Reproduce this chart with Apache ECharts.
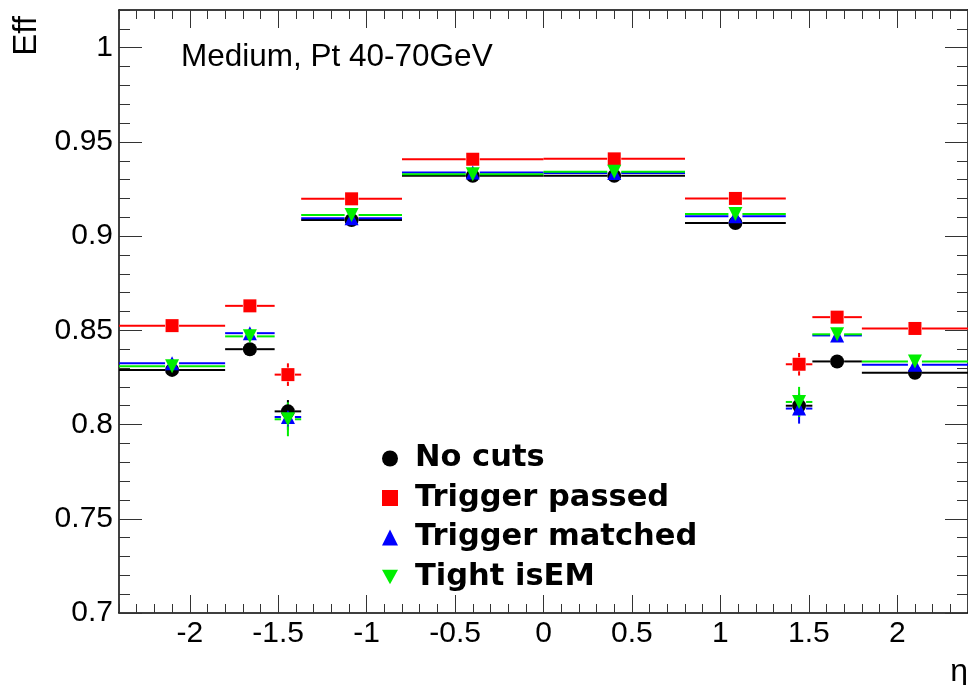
<!DOCTYPE html>
<html>
<head>
<meta charset="utf-8">
<script src="https://cdn.jsdelivr.net/npm/echarts@6/dist/echarts.min.js"></script>
<style>
  html, body { margin: 0; padding: 0; background: #fff; }
  #main { width: 968px; height: 685px; }
</style>
</head>
<body>
<div id="main"></div>
<script>
// bins in eta
const binEdges = [-2.4, -1.8, -1.52, -1.37, -0.8, 0, 0.8, 1.37, 1.52, 1.8, 2.4];

// efficiencies per bin
const effNoCuts   = [0.829, 0.840, 0.807, 0.9085, 0.932, 0.932, 0.907, 0.810, 0.8335, 0.8275];
const effPassed   = [0.8525, 0.863, 0.8265, 0.9198, 0.9408, 0.941, 0.920, 0.832, 0.857, 0.851];
const effMatched  = [0.8325, 0.8485, 0.804, 0.9095, 0.9337, 0.9335, 0.9105, 0.8085, 0.8473, 0.8318];
const effTight    = [0.831, 0.8468, 0.8028, 0.9112, 0.9328, 0.9342, 0.9117, 0.812, 0.8479, 0.8335];

// statistical errors
const errNoCuts   = [0.001, 0.003, 0.006, 0.001, 0.001, 0.001, 0.001, 0.006, 0.003, 0.001];
const errPassed   = [0.001, 0.003, 0.006, 0.001, 0.001, 0.001, 0.001, 0.006, 0.003, 0.001];
const errMatched  = [0.001, 0.003, 0.007, 0.001, 0.001, 0.001, 0.001, 0.008, 0.003, 0.001];
const errTight    = [0.001, 0.003, 0.009, 0.001, 0.001, 0.001, 0.001, 0.008, 0.003, 0.001];

const xTickLabels = [-2, -1.5, -1, -0.5, 0, 0.5, 1, 1.5, 2];
const yTickLabels = [0.7, 0.75, 0.8, 0.85, 0.9, 0.95, 1];

let xMinor = [];
for (let i = -24; i <= 24; i++) xMinor.push(i / 10);
let yMinor = [];
for (let i = 70; i <= 102; i++) yMinor.push(i / 100);

const fontAxis = 'Liberation Sans';
const invTriangle = 'path://M0,0L10,0L5,9Z';

const chart = echarts.init(document.getElementById('main'));

function binData(eff, err) {
  return eff.map((v, i) => [binEdges[i], binEdges[i + 1], v, err[i]]);
}
function centerData(eff) {
  return eff.map((v, i) => [(binEdges[i] + binEdges[i + 1]) / 2, v]);
}

// horizontal bin line + vertical error bar, with a gap around the marker (ROOT style)
function binRender(color) {
  return function (params, api) {
    const y = api.value(2);
    const lo = api.coord([api.value(0), y]);
    const hi = api.coord([api.value(1), y]);
    const c = api.coord([(api.value(0) + api.value(1)) / 2, y]);
    const top = api.coord([0, y + api.value(3)])[1];
    const bot = api.coord([0, y - api.value(3)])[1];
    const gap = 7;
    const style = { stroke: color, lineWidth: 2 };
    let children = [];
    children.push({ type: 'line', shape: { x1: lo[0], y1: c[1], x2: c[0] - gap, y2: c[1] }, style: style });
    children.push({ type: 'line', shape: { x1: c[0] + gap, y1: c[1], x2: hi[0], y2: c[1] }, style: style });
    if (c[1] - gap > top) {
      children.push({ type: 'line', shape: { x1: c[0], y1: c[1] - gap, x2: c[0], y2: top }, style: style });
    }
    if (bot > c[1] + gap) {
      children.push({ type: 'line', shape: { x1: c[0], y1: c[1] + gap, x2: c[0], y2: bot }, style: style });
    }
    return { type: 'group', children: children };
  };
}

function lineSeries(eff, err, color) {
  return {
    type: 'custom',
    renderItem: binRender(color),
    dimensions: ['lo', 'hi', 'eff', 'err'],
    encode: { x: [0, 1], y: 2 },
    data: binData(eff, err),
    clip: false,
    silent: true
  };
}
function markerSeries(name, eff, color, symbol, size) {
  return {
    name: name,
    type: 'scatter',
    symbol: symbol,
    symbolSize: size,
    itemStyle: { color: color, opacity: 1 },
    data: centerData(eff),
    silent: true
  };
}

function xAxisOf(position, ticks, len, withLine, withLabel) {
  return {
    type: 'value', min: -2.4, max: 2.4, position: position,
    axisLine: { show: withLine, onZero: false, lineStyle: { color: '#000', width: 1.5 } },
    axisTick: { show: true, inside: true, length: len, customValues: ticks, lineStyle: { color: '#333', width: 1 } },
    axisLabel: withLabel
      ? { show: true, customValues: ticks, fontFamily: fontAxis, fontSize: 30, color: '#000', margin: 6 }
      : { show: false },
    splitLine: { show: false }
  };
}
function yAxisOf(position, ticks, len, withLine, withLabel) {
  return {
    type: 'value', min: 0.7, max: 1.02, position: position,
    axisLine: { show: withLine, onZero: false, lineStyle: { color: '#000', width: 1.5 } },
    axisTick: { show: true, inside: true, length: len, customValues: ticks, lineStyle: { color: '#333', width: 1 } },
    axisLabel: withLabel
      ? { show: true, customValues: ticks, fontFamily: fontAxis, fontSize: 30, color: '#000', margin: 6 }
      : { show: false },
    splitLine: { show: false }
  };
}

const option = {
  animation: false,
  backgroundColor: '#fff',
  grid: { left: 119, top: 10, width: 851, height: 603 },
  xAxis: [
    xAxisOf('bottom', xTickLabels, 18, true, true),
    xAxisOf('bottom', xMinor, 9, false, false),
    xAxisOf('top', xTickLabels, 18, true, false),
    xAxisOf('top', xMinor, 9, false, false)
  ],
  yAxis: [
    yAxisOf('left', yTickLabels, 23, true, true),
    yAxisOf('left', yMinor, 11, false, false),
    yAxisOf('right', yTickLabels, 23, true, false),
    yAxisOf('right', yMinor, 11, false, false)
  ],
  legend: {
    orient: 'vertical',
    left: 382,
    top: 443,
    padding: 0,
    itemWidth: 16,
    itemHeight: 16,
    itemGap: 8.5,
    selectedMode: false,
    data: [
      { name: 'No cuts', icon: 'circle' },
      { name: 'Trigger passed', icon: 'rect' },
      { name: 'Trigger matched', icon: 'triangle' },
      { name: 'Tight isEM', icon: invTriangle }
    ],
    textStyle: {
      fontFamily: 'DejaVu Sans', fontWeight: 'bold', fontSize: 30.5, color: '#000',
      lineHeight: 31, padding: [0, 0, 0, 12]
    }
  },
  graphic: [
    {
      type: 'text', left: 181, top: 41,
      style: { text: 'Medium, Pt 40-70GeV', font: '31.5px "Liberation Sans"', fill: '#000' }
    },
    {
      type: 'text', x: 27, y: 16, rotation: Math.PI / 2,
      style: { text: 'Eff', font: '33px "Liberation Sans"', fill: '#000', align: 'right', verticalAlign: 'middle' }
    },
    {
      type: 'text', x: 968, y: 656,
      style: { text: 'η', font: '32px "Liberation Sans"', fill: '#000', align: 'right', verticalAlign: 'top' }
    }
  ],
  series: [
    lineSeries(effNoCuts, errNoCuts, '#000'),
    markerSeries('No cuts', effNoCuts, '#000', 'circle', 14),
    lineSeries(effPassed, errPassed, '#ff0000'),
    markerSeries('Trigger passed', effPassed, '#ff0000', 'rect', 13),
    lineSeries(effMatched, errMatched, '#0000ff'),
    markerSeries('Trigger matched', effMatched, '#0000ff', 'triangle', 14),
    lineSeries(effTight, errTight, '#00ee00'),
    markerSeries('Tight isEM', effTight, '#00ee00', invTriangle, 14)
  ]
};

chart.setOption(option);
</script>
</body>
</html>
